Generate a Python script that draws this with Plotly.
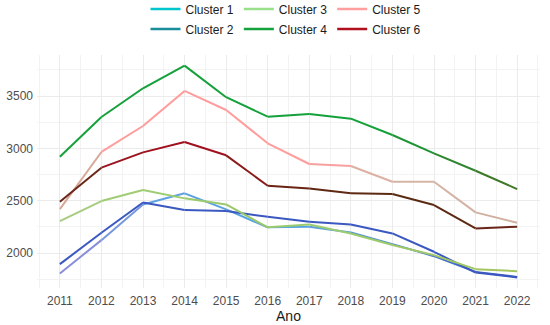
import plotly.graph_objects as go

years = list(range(2011, 2023))
cluster1 = [1806, 2124, 2465, 2571, 2418, 2246, 2252, 2198, 2086, 1971, 1821, 1773]
cluster2 = [1895, 2194, 2484, 2411, 2402, 2347, 2299, 2274, 2188, 2013, 1815, 1768]
cluster3 = [2306, 2497, 2602, 2523, 2465, 2246, 2274, 2188, 2077, 1981, 1847, 1828]
cluster4 = [2921, 3300, 3574, 3791, 3489, 3303, 3329, 3284, 3128, 2953, 2787, 2612]
cluster5 = [2421, 2966, 3214, 3549, 3367, 3049, 2851, 2832, 2682, 2682, 2389, 2290]
cluster6 = [2491, 2816, 2962, 3061, 2934, 2644, 2618, 2571, 2564, 2459, 2236, 2252]
names = ["Cluster 1", "Cluster 2", "Cluster 3", "Cluster 4", "Cluster 5", "Cluster 6"]
series = [cluster1, cluster2, cluster3, cluster4, cluster5, cluster6]

legend_colors = ["#00C5CD", "#1A8C9A", "#98E08A", "#14A03A", "#FF9E9E", "#B0101E"]
# per-segment colours (the original lines shift hue along their length)
seg_colors = [
    ["#8A8ED8", "#7898DC", "#5FA2E2", "#5AA0E0", "#56A2E2", "#58A4E0", "#5AA0DC", "#5090D8", "#4A80D2", "#4470CC", "#3C60C4"],
    ["#3A58C0"] * 11,
    ["#A6CC80", "#A0CC74", "#9ECC70", "#9ACA6C", "#98C86A", "#9ACB70", "#9CCC70", "#9CCB6A", "#A0C866", "#A2C864", "#A4C660"],
    ["#14A03A"] * 8 + ["#1E9434", "#2E8630", "#3E7828"],
    ["#D8A898", "#FF9C9C", "#FF9C9C", "#FF9C9C", "#FF9C9C", "#FF9C9C", "#F8A0A0", "#DDB0A4", "#D4B4A4", "#D4B2A4", "#D0B0A0"],
    ["#6A2818", "#9A1420", "#A0101E", "#A0101E", "#8A1A1A", "#6A2414", "#5E2812", "#5C2A12", "#5A2A12", "#5C2A12", "#6A2418"],
]

fig = go.Figure()
for name, vals, segs in zip(names, series, seg_colors):
    for i in range(len(years) - 1):
        fig.add_trace(go.Scatter(
            x=years[i:i + 2], y=vals[i:i + 2], mode="lines",
            line=dict(color=segs[i], width=2), showlegend=False, hoverinfo="skip"))

legend_order = [(0, "legend"), (2, "legend"), (4, "legend"), (1, "legend2"), (3, "legend2"), (5, "legend2")]
for idx, lg in legend_order:
    fig.add_trace(go.Scatter(
        x=[None], y=[None], mode="lines", name=names[idx],
        line=dict(color=legend_colors[idx], width=2.5), legend=lg, showlegend=True))

legend_common = dict(orientation="h", xref="container", yref="container",
                     xanchor="center", x=0.52, yanchor="middle",
                     font=dict(family="Liberation Sans, Arial", size=12, color="#1A1A1A"),
                     bgcolor="rgba(0,0,0,0)", itemwidth=30, tracegroupgap=0)

fig.update_layout(
    width=550, height=325,
    margin=dict(l=37, r=10, t=55, b=37, autoexpand=False),
    paper_bgcolor="white", plot_bgcolor="white",
    font=dict(family="Liberation Sans, Arial", color="#4D4D4D"),
    legend=dict(**legend_common, y=1 - 9 / 325),
    legend2=dict(**legend_common, y=1 - 29 / 325),
    xaxis=dict(
        range=[2010.45, 2022.55], tickmode="array", tickvals=years,
        ticktext=[str(y) for y in years], showgrid=True, gridcolor="#EBEBEB",
        gridwidth=1, zeroline=False, showline=False, ticks="", automargin=False,
        tickfont=dict(size=12, color="#4D4D4D"), ticklabelstandoff=4,
        minor=dict(dtick=1, tick0=2010.5, showgrid=True, gridcolor="#F3F3F3", gridwidth=0.8),
        title=dict(text="Ano", font=dict(size=14, color="#1A1A1A"), standoff=0),
    ),
    yaxis=dict(
        range=[1667, 3892], tickvals=[2000, 2500, 3000, 3500],
        showgrid=True, gridcolor="#EBEBEB", gridwidth=1, zeroline=False, automargin=False,
        showline=False, ticks="", tickfont=dict(size=12, color="#4D4D4D"), ticklabelstandoff=3,
        minor=dict(dtick=500, tick0=1750, showgrid=True, gridcolor="#F3F3F3", gridwidth=0.8),
    ),
)

fig.write_html("out.html", config={"displayModeBar": False},
               post_script="document.body.style.margin='0px';")
